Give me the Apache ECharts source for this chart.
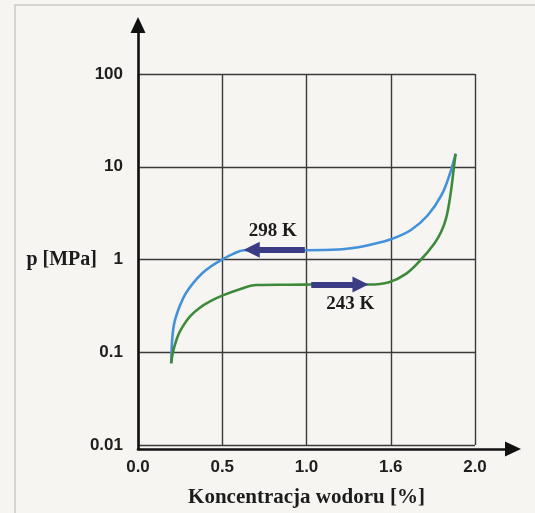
<!DOCTYPE html>
<html>
<head>
<meta charset="utf-8">
<script src="https://cdn.jsdelivr.net/npm/echarts@6/dist/echarts.min.js"></script>
<style>
	html, body { margin: 0; padding: 0; background: #f6f5f2; }
	#container { width: 535px; height: 513px; }
</style>
</head>
<body>
<div id="container"></div>
<script>
	// dane (x w jednostkach osi, y = p [MPa])
	var xTickLabels = ['0.0', '0.5', '1.0', '1.6', '2.0'];
	var yTickLabels = ['0.01', '0.1', '1', '10', '100'];

	var seria298 = [
		[0.197, 0.076], [0.199, 0.1], [0.202, 0.13], [0.207, 0.165], [0.215, 0.205],
		[0.228, 0.25], [0.246, 0.31], [0.28, 0.42], [0.325, 0.55], [0.4, 0.76], [0.5, 1.0],
		[0.565, 1.15], [0.63, 1.26], [0.8, 1.27], [1.0, 1.26], [1.19, 1.28],
		[1.3, 1.35], [1.39, 1.46], [1.5, 1.65], [1.62, 2.08], [1.72, 3.0],
		[1.8, 4.9], [1.85, 8.3], [1.885, 13.8]
	];
	var seria243 = [
		[0.197, 0.076], [0.205, 0.095], [0.217, 0.117], [0.24, 0.155], [0.266, 0.19],
		[0.31, 0.245], [0.365, 0.3], [0.43, 0.355], [0.503, 0.41], [0.6, 0.475],
		[0.7, 0.53], [0.9, 0.535], [1.03, 0.537], [1.2, 0.537], [1.37, 0.537],
		[1.49, 0.57], [1.59, 0.7], [1.68, 1.0], [1.76, 1.5], [1.8, 2.0],
		[1.83, 2.85], [1.857, 5.4], [1.875, 10], [1.885, 13.8]
	];

	// strzałki i opisy
	var strzalka298 = [[0.99, 1.27], [0.675, 1.27]];
	var strzalka243 = [[1.028, 0.537], [1.32, 0.537]];
	var opis298 = [0.8, 2.0];
	var opis243 = [1.26, 0.332];

	var serif = "'Liberation Serif', 'Times New Roman', serif";
	var sans = "'Liberation Sans', Arial, sans-serif";

	function strzalka(coords) {
		return {
			silent: true,
			symbol: ['none', 'triangle'],
			symbolSize: 16,
			label: { show: false },
			lineStyle: { color: '#3b3b86', width: 6, type: 'solid' },
			emphasis: { disabled: true },
			data: [[{ coord: coords[0] }, { coord: coords[1] }]]
		};
	}
	function opis(coord, text) {
		return {
			silent: true,
			symbol: 'circle',
			symbolSize: 1,
			itemStyle: { color: 'rgba(0,0,0,0)' },
			label: {
				show: true, position: 'inside', formatter: text,
				fontFamily: serif, fontWeight: 'bold', fontSize: 19, color: '#1c1c1c'
			},
			data: [{ coord: coord, value: text }]
		};
	}

	var option = {
		backgroundColor: '#f6f5f2',
		animation: false,
		graphic: [{
			type: 'polyline',
			shape: { points: [[15, 513], [15, 5], [535, 5]] },
			style: { stroke: '#c9c9c7', lineWidth: 1.5, fill: null }
		}],
		grid: [
			{ left: 138, right: 60, top: 74, bottom: 64 },
			{ left: 138, right: 22, top: 25, bottom: 64 }
		],
		xAxis: [{
			gridIndex: 0,
			type: 'value',
			min: 0, max: 2, interval: 0.5,
			name: 'Koncentracja wodoru [%]',
			nameLocation: 'middle',
			nameGap: 42,
			nameMoveOverlap: false,
			nameTextStyle: { fontFamily: serif, fontWeight: 'bold', fontSize: 21, color: '#1c1c1c' },
			axisLine: { show: false },
			axisTick: { show: false },
			axisLabel: {
				margin: 14,
				fontFamily: sans, fontWeight: 'bold', fontSize: 17, color: '#1e1e1e',
				formatter: function (v) { return xTickLabels[Math.round(v / 0.5)]; }
			},
			splitLine: { show: true, lineStyle: { color: '#3a3a3a', width: 1.4 } }
		}, {
			gridIndex: 1,
			type: 'value', min: 0, max: 1,
			axisLine: { show: true, symbol: ['none', 'triangle'], symbolSize: [15, 16], lineStyle: { color: '#111', width: 2.6 } },
			axisTick: { show: false }, axisLabel: { show: false }, splitLine: { show: false }
		}],
		yAxis: [{
			gridIndex: 0,
			type: 'log', logBase: 10,
			min: 0.01, max: 100,
			name: 'p [MPa]',
			nameLocation: 'middle',
			nameRotate: 0,
			nameGap: 41,
			nameMoveOverlap: false,
			nameTextStyle: { fontFamily: serif, fontWeight: 'bold', fontSize: 20, color: '#1c1c1c', align: 'right', verticalAlign: 'middle' },
			axisLine: { show: false },
			axisTick: { show: false },
			axisLabel: {
				margin: 15,
				fontFamily: sans, fontWeight: 'bold', fontSize: 17, color: '#1e1e1e',
				formatter: function (v) {
					var i = Math.round(Math.log(v) / Math.LN10) + 2;
					return yTickLabels[i] || '';
				}
			},
			splitLine: { show: true, lineStyle: { color: '#3a3a3a', width: 1.4 } }
		}, {
			gridIndex: 1,
			type: 'value', min: 0, max: 1,
			axisLine: { show: true, symbol: ['none', 'triangle'], symbolSize: [15, 16], lineStyle: { color: '#111', width: 2.6 } },
			axisTick: { show: false }, axisLabel: { show: false }, splitLine: { show: false }
		}],
		series: [{
			name: '298 K',
			type: 'line',
			data: seria298,
			smooth: 0.4,
			symbol: 'none',
			lineStyle: { color: '#4291d9', width: 2.6 },
			markLine: strzalka(strzalka298),
			markPoint: opis(opis298, '298 K')
		}, {
			name: '243 K',
			type: 'line',
			data: seria243,
			smooth: 0.4,
			symbol: 'none',
			lineStyle: { color: '#3d8a3a', width: 2.6 },
			markLine: strzalka(strzalka243),
			markPoint: opis(opis243, '243 K')
		}]
	};

	var myChart = echarts.init(document.getElementById('container'));
	myChart.setOption(option);
</script>
</body>
</html>
